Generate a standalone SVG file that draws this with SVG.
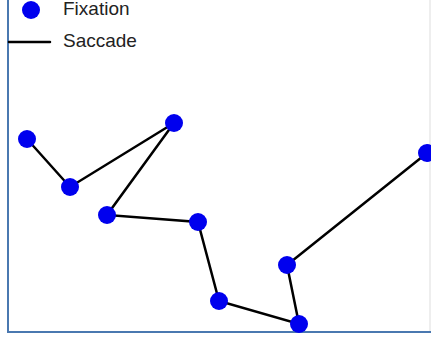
<svg xmlns="http://www.w3.org/2000/svg" width="431" height="343" viewBox="0 0 431 343">
<style>
.fix{fill:#0000ee;}
.sac{stroke:#000;stroke-width:2.5;fill:none;stroke-linecap:round;}
.lbl{font-family:"Liberation Sans",Arial,sans-serif;font-size:19px;fill:#222;}
.frame{stroke:#4a78b0;stroke-width:2;fill:none;}
</style>
<rect width="431" height="343" fill="#fff"/>
<g id="frame">
<line class="frame" x1="8" y1="0" x2="8" y2="332"/>
<line class="frame" x1="7" y1="332" x2="431" y2="332"/>
<line x1="430" y1="0" x2="430" y2="331" stroke="#ddd" stroke-width="1"/>
</g>
<g id="legend">
<circle class="fix" cx="31" cy="10" r="9"/>
<text class="lbl" x="63" y="15">Fixation</text>
<line class="sac" x1="9" y1="42" x2="50" y2="42" stroke-linecap="butt"/>
<text class="lbl" x="63" y="47">Saccade</text>
</g>
<g id="connectors">
<polyline class="sac" points="27,139 70,187 174,123 107,215 198,222 219,301 299,324 287,265 427,153"/>
</g>
<g id="f1"><circle class="fix" cx="27" cy="139" r="9"/></g>
<g id="f2"><circle class="fix" cx="70" cy="187" r="9"/></g>
<g id="f3"><circle class="fix" cx="174" cy="123" r="9"/></g>
<g id="f4"><circle class="fix" cx="107" cy="215" r="9"/></g>
<g id="f5"><circle class="fix" cx="198" cy="222" r="9"/></g>
<g id="f6"><circle class="fix" cx="219" cy="301" r="9"/></g>
<g id="f7"><circle class="fix" cx="299" cy="324" r="9"/></g>
<g id="f8"><circle class="fix" cx="287" cy="265" r="9"/></g>
<g id="f9"><circle class="fix" cx="427" cy="153" r="9"/></g>
</svg>
